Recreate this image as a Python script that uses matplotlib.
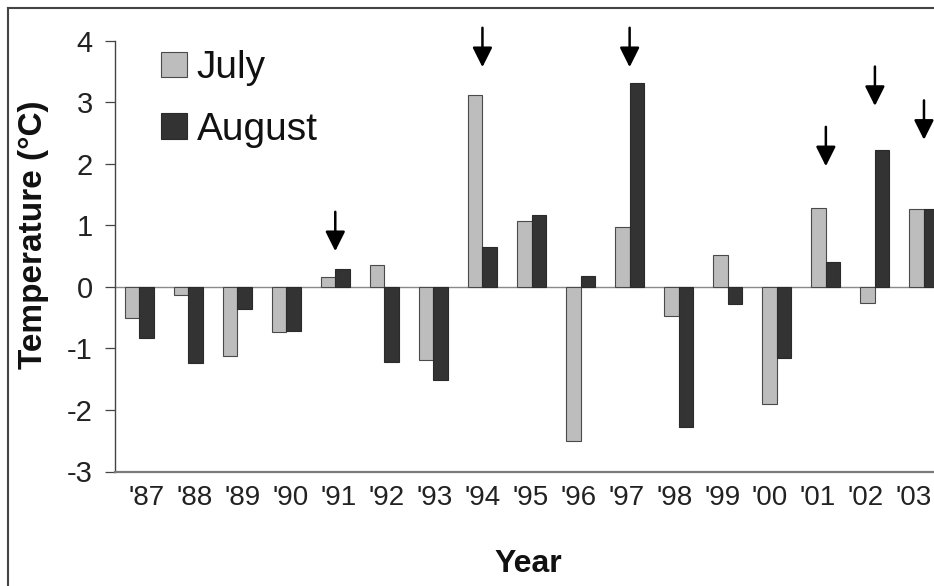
import matplotlib
matplotlib.use("Agg")
import matplotlib.pyplot as plt
from matplotlib.lines import Line2D
import numpy as np

plt.rcParams['font.family'] = ['Liberation Sans', 'DejaVu Sans']
plt.rcParams['axes.unicode_minus'] = False

# Monthly temperature anomalies
years = ["'87", "'88", "'89", "'90", "'91", "'92", "'93", "'94", "'95",
         "'96", "'97", "'98", "'99", "'00", "'01", "'02", "'03"]
july = [-0.51, -0.14, -1.13, -0.74, 0.16, 0.36, -1.19, 3.12, 1.07,
        -2.50, 0.98, -0.47, 0.51, -1.90, 1.28, -0.26, 1.27]
august = [-0.83, -1.24, -0.36, -0.72, 0.29, -1.22, -1.52, 0.64, 1.17,
          0.18, 3.31, -2.28, -0.28, -1.15, 0.41, 2.22, 1.26]

# Years flagged with arrows and the height of each arrow tip
flag_years = ["'91", "'94", "'97", "'01", "'02", "'03"]
flag_tips = [0.58, 3.57, 3.57, 1.96, 2.94, 2.39]

W, H = 934, 586
fig = plt.figure(figsize=(W / 100, H / 100), dpi=100)
ax = fig.add_axes([115 / W, (H - 471.5) / H, 833.5 / W, 430.8 / H])

x = np.arange(len(years))
bw = 0.295
ax.bar(x - bw / 2, july, width=bw, color='#bdbdbd', edgecolor='#4a4a4a',
       linewidth=0.8, label='July', zorder=3)
ax.bar(x + bw / 2, august, width=bw, color='#333333', edgecolor='#2a2a2a',
       linewidth=0.8, label='August', zorder=3)

ax.axhline(0, color='#8a8a8a', lw=1.0, zorder=2)

for yr, tip in zip(flag_years, flag_tips):
    xi = years.index(yr)
    ax.annotate('', xy=(xi, tip), xytext=(xi, tip + 0.64),
                arrowprops=dict(arrowstyle='-|>,head_length=0.6,head_width=0.3',
                                color='black', lw=1.8, shrinkA=0, shrinkB=0,
                                mutation_scale=20))

ax.set_xlim(-0.49, 16.5)
ax.set_ylim(-3, 4)
ax.set_yticks(range(-3, 5))
# category labels are spread slightly tighter than the bar groups
label_pos = 0.163 + x * 0.977
ax.set_xticks(label_pos)
ax.set_xticklabels(years)

for s in ('top', 'right'):
    ax.spines[s].set_visible(False)
ax.spines['left'].set_color('#444444')
ax.spines['left'].set_linewidth(1.0)
ax.spines['bottom'].set_color('#7a7a7a')
ax.spines['bottom'].set_linewidth(1.6)

ax.tick_params(axis='y', direction='out', length=7, width=0.9, color='#444444',
               labelsize=21, pad=9, labelcolor='#222222')
ax.tick_params(axis='x', length=0, labelsize=20, pad=10, labelcolor='#222222')

fig.text(34 / W, 1 - 235 / H, 'Temperature (°C)', rotation=90, ha='center',
         va='center', fontsize=24, fontweight='bold', color='#111111')
fig.text(528 / W, 1 - 564 / H, 'Year', ha='center', va='center', fontsize=23,
         fontweight='bold', color='#111111')

leg = ax.legend(loc='upper left', bbox_to_anchor=(161 / W, 1 - 50 / H),
                bbox_transform=fig.transFigure, frameon=False, fontsize=28,
                handlelength=0.67, handleheight=0.62, handletextpad=0.25,
                labelspacing=0.66, borderpad=0, borderaxespad=0)
for t in leg.get_texts():
    t.set_color('#111111')

# Outer frame around the figure (top and left edges)
fig.add_artist(Line2D([8 / W, 8 / W], [0, 1 - 8 / H], transform=fig.transFigure,
                      color='#444444', lw=1.5))
fig.add_artist(Line2D([8 / W, 1], [1 - 8 / H, 1 - 8 / H], transform=fig.transFigure,
                      color='#444444', lw=1.5))

fig.savefig('out.png', dpi=100)
